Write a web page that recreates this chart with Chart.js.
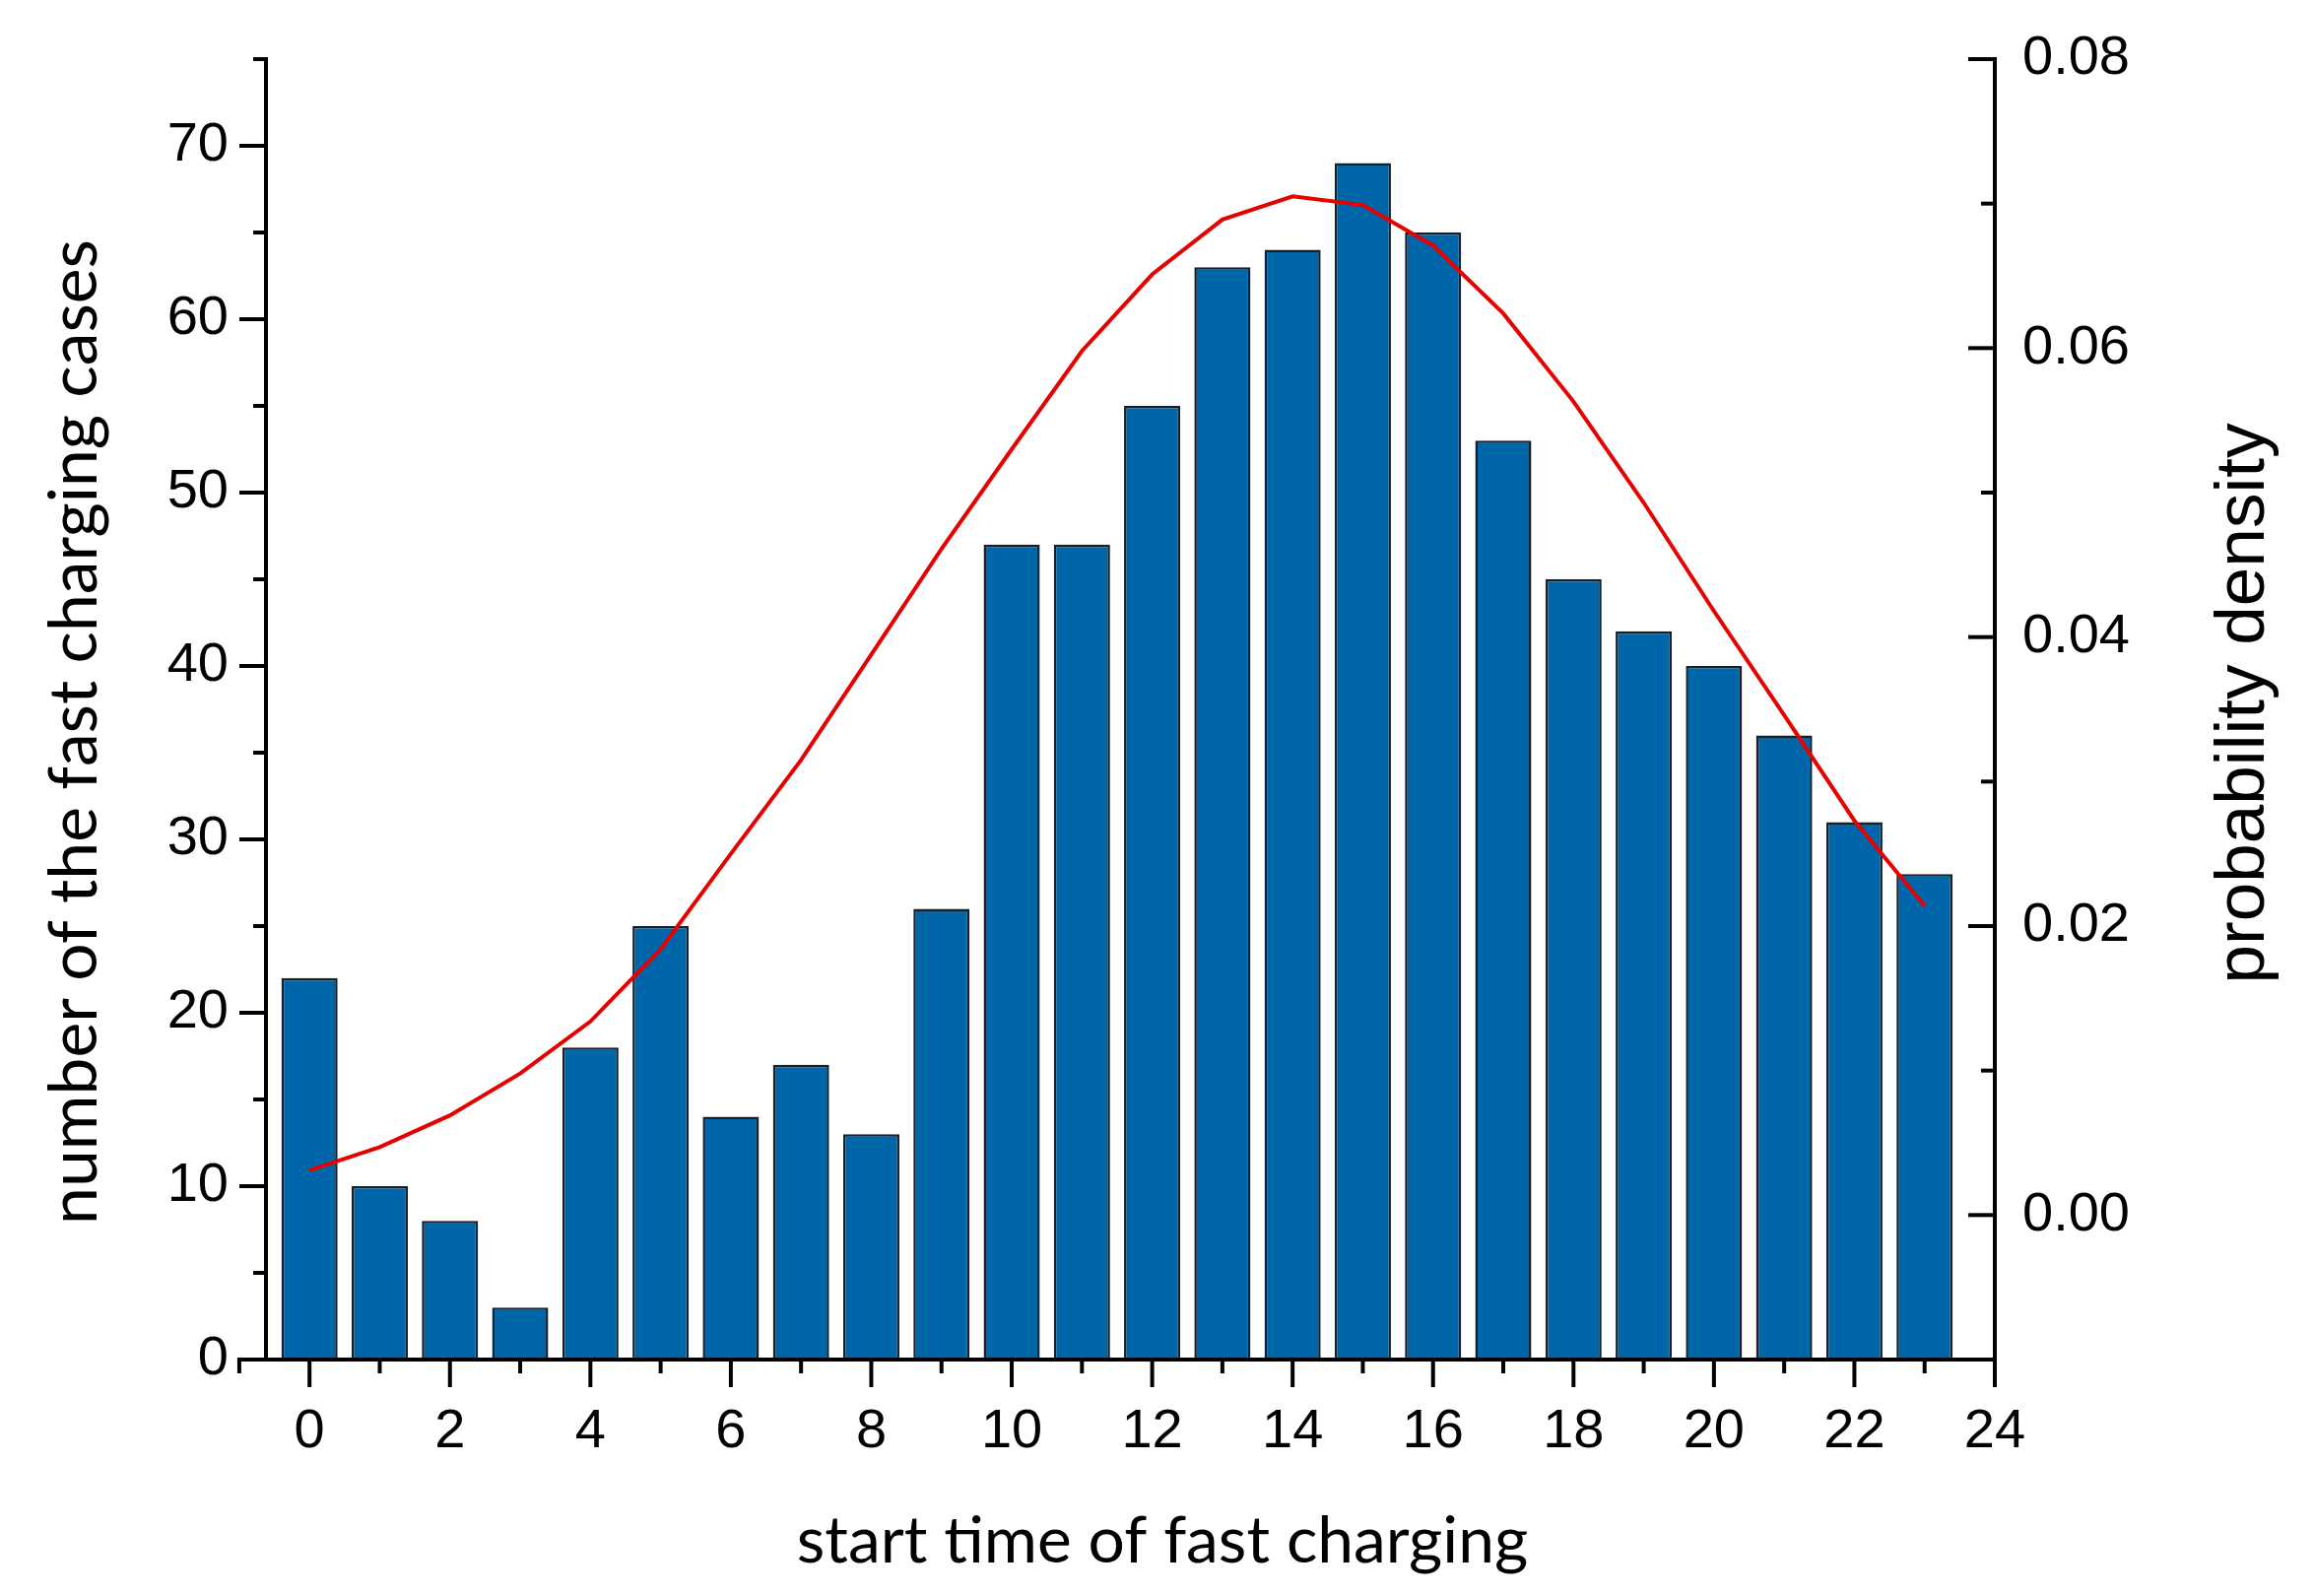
<!DOCTYPE html>
<html lang="en">
<head>
<meta charset="UTF-8">
<title>Start time of fast charging</title>
<script src="https://cdn.jsdelivr.net/npm/chart.js"></script>
<style>
    html, body { margin: 0; padding: 0; background: #fff; }
    #chart { display: block; }
</style>
</head>
<body>
<canvas id="chart" width="2349" height="1620"></canvas>
<script>
    // hour of the day at which fast charging started
    const hours = [0, 1, 2, 3, 4, 5, 6, 7, 8, 9, 10, 11, 12, 13, 14, 15, 16, 17, 18, 19, 20, 21, 22, 23];
    // number of fast charging cases per hour (left axis)
    const cases = [22, 10, 8, 3, 18, 25, 14, 17, 13, 26, 47, 47, 55, 63, 64, 69, 65, 53, 45, 42, 40, 36, 31, 28];
    // fitted probability density (right axis)
    const density = [0.0031, 0.0047, 0.0069, 0.0098, 0.0134, 0.0184, 0.0250, 0.0315, 0.0388, 0.0461, 0.0530, 0.0598,
                     0.0651, 0.0689, 0.0705, 0.0699, 0.0671, 0.0624, 0.0563, 0.0493, 0.0418, 0.0346, 0.0273, 0.0214];

    const xTicks = [0, 2, 4, 6, 8, 10, 12, 14, 16, 18, 20, 22, 24];
    const xMinorTicks = [-1, 1, 3, 5, 7, 9, 11, 13, 15, 17, 19, 21, 23];
    const leftTicks = [0, 10, 20, 30, 40, 50, 60, 70];
    const leftMinorTicks = [5, 15, 25, 35, 45, 55, 65, 75];
    const rightTicks = [0, 0.02, 0.04, 0.06, 0.08];
    const rightMinorTicks = [-0.01, 0.01, 0.03, 0.05, 0.07];

    const xTitle = 'start time of fast charging';
    const leftTitle = 'number of the fast charging cases';
    const rightTitle = 'probability density';

    const tickFont = { family: '"Liberation Sans", Arial, sans-serif', size: 56 };

    // scale a font so the text spans the wanted length
    function fitFont(ctx, text, family, length) {
        ctx.font = '100px ' + family;
        const size = 100 * length / ctx.measureText(text).width;
        return size.toFixed(1) + 'px ' + family;
    }

    // minor ticks, inward right ticks and the axis titles
    const axisDecor = {
        id: 'axisDecor',
        afterDraw(chart) {
            const ctx = chart.ctx;
            const area = chart.chartArea;
            const sx = chart.scales.x, sy = chart.scales.y, sy2 = chart.scales.y2;

            ctx.save();
            ctx.strokeStyle = '#000';
            ctx.lineWidth = 4;
            function seg(x1, y1, x2, y2) {
                ctx.beginPath();
                ctx.moveTo(x1, y1);
                ctx.lineTo(x2, y2);
                ctx.stroke();
            }

            // x axis runs a bit further left than the y axis
            seg(sx.getPixelForValue(-1) - 2, area.bottom, area.left, area.bottom);
            xTicks.forEach(v => { const p = sx.getPixelForValue(v); seg(p, area.bottom, p, area.bottom + 28); });
            xMinorTicks.forEach(v => { const p = sx.getPixelForValue(v); seg(p, area.bottom, p, area.bottom + 14); });

            leftTicks.forEach(v => { const p = sy.getPixelForValue(v); seg(area.left - 27, p, area.left, p); });
            leftMinorTicks.forEach(v => { const p = sy.getPixelForValue(v); seg(area.left - 13, p, area.left, p); });

            rightTicks.forEach(v => { const p = sy2.getPixelForValue(v); seg(area.right - 27, p, area.right, p); });
            rightMinorTicks.forEach(v => { const p = sy2.getPixelForValue(v); seg(area.right - 14, p, area.right, p); });

            // titles
            ctx.fillStyle = '#000';
            ctx.textAlign = 'center';
            ctx.textBaseline = 'alphabetic';

            ctx.font = fitFont(ctx, xTitle, 'Lato, "Open Sans", sans-serif', 742);
            ctx.fillText(xTitle, 1180, 1586);

            ctx.save();
            ctx.translate(98, 743);
            ctx.rotate(-Math.PI / 2);
            ctx.font = fitFont(ctx, leftTitle, 'Lato, "Open Sans", sans-serif', 1000);
            ctx.fillText(leftTitle, 0, 0);
            ctx.restore();

            ctx.save();
            ctx.translate(2298, 714);
            ctx.rotate(-Math.PI / 2);
            ctx.font = fitFont(ctx, rightTitle, '"Liberation Sans", Arial, sans-serif', 569);
            ctx.fillText(rightTitle, 0, 0);
            ctx.restore();

            ctx.restore();
        }
    };

    // fixed axis box sizes so the plot area sits where the original does
    function fixWidth(w) {
        return s => { s.width = w; s.paddingTop = 0; s.paddingBottom = 0; };
    }

    const ctx = document.getElementById('chart').getContext('2d');

    new Chart(ctx, {
        type: 'bar',
        data: {
            datasets: [
                {
                    type: 'line',
                    label: 'probability density',
                    data: hours.map((h, i) => ({ x: h, y: density[i] })),
                    yAxisID: 'y2',
                    borderColor: '#e60000',
                    borderWidth: 4,
                    pointRadius: 0,
                    tension: 0,
                    fill: false,
                    order: 0
                },
                {
                    type: 'bar',
                    label: 'cases',
                    data: hours.map((h, i) => ({ x: h, y: cases[i] })),
                    yAxisID: 'y',
                    backgroundColor: '#0066aa',
                    borderColor: '#16202a',
                    borderWidth: 2.5,
                    categoryPercentage: 1,
                    barPercentage: 0.8,
                    order: 1
                }
            ]
        },
        options: {
            responsive: false,
            animation: false,
            devicePixelRatio: 1,
            layout: { padding: { top: 60, left: 0, right: 0, bottom: 0 } },
            plugins: {
                legend: { display: false },
                tooltip: { enabled: false }
            },
            scales: {
                x: {
                    type: 'linear',
                    position: 'bottom',
                    min: -0.62,
                    max: 24,
                    offset: false,
                    afterBuildTicks: s => { s.ticks = xTicks.map(v => ({ value: v })); },
                    afterFit: s => { s.height = 240; },
                    grid: { display: false, drawTicks: false },
                    border: { display: true, color: '#000', width: 4, z: 1 },
                    ticks: { font: tickFont, color: '#000', padding: 40, autoSkip: false, maxRotation: 0 }
                },
                y: {
                    type: 'linear',
                    position: 'left',
                    min: 0,
                    max: 75,
                    afterBuildTicks: s => { s.ticks = leftTicks.map(v => ({ value: v })); },
                    afterFit: fixWidth(270),
                    grid: { display: false, drawTicks: false },
                    border: { display: true, color: '#000', width: 4, z: 1 },
                    ticks: { font: tickFont, color: '#000', padding: 38 }
                },
                y2: {
                    type: 'linear',
                    position: 'right',
                    min: -0.01,
                    max: 0.08,
                    afterBuildTicks: s => { s.ticks = rightTicks.map(v => ({ value: v })); },
                    afterFit: fixWidth(324),
                    grid: { display: false, drawTicks: false },
                    border: { display: true, color: '#000', width: 4, z: 1 },
                    ticks: { font: tickFont, color: '#000', padding: 28, callback: v => v.toFixed(2) }
                }
            }
        },
        plugins: [axisDecor]
    });
</script>
</body>
</html>
